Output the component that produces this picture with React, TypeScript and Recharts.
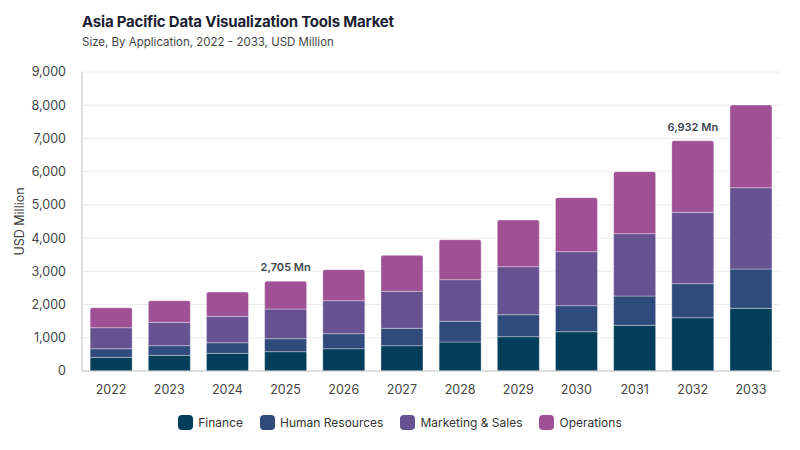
import React from "react";
import {
  BarChart,
  Bar,
  XAxis,
  YAxis,
  CartesianGrid,
  LabelList,
} from "recharts";

const years = ["2022", "2023", "2024", "2025", "2026", "2027", "2028", "2029", "2030", "2031", "2032", "2033"];
const finance = [412, 472, 532, 582, 671, 762, 873, 1033, 1183, 1375, 1605, 1886];
const humanResources = [259, 290, 320, 391, 452, 523, 623, 662, 783, 883, 1024, 1184];
const marketingSales = [632, 704, 794, 893, 993, 1114, 1252, 1445, 1626, 1876, 2148, 2448];
const operations = [602, 650, 732, 839, 934, 1084, 1204, 1405, 1625, 1866, 2155, 2489];
const yTicks = [0, 1000, 2000, 3000, 4000, 5000, 6000, 7000, 8000, 9000];
const labelledYears = ["2025", "2032"];

const series = [
  { key: "finance", name: "Finance", color: "#023e5a" },
  { key: "hr", name: "Human Resources", color: "#2f4b7c" },
  { key: "marketing", name: "Marketing & Sales", color: "#665191" },
  { key: "operations", name: "Operations", color: "#a05195" },
];

const data = years.map((year, i) => ({
  year,
  finance: finance[i],
  hr: humanResources[i],
  marketing: marketingSales[i],
  operations: operations[i],
  total: finance[i] + humanResources[i] + marketingSales[i] + operations[i],
}));

const FONT = "Inter, 'Noto Sans', sans-serif";

const fmt = (v: number) => v.toLocaleString("en-US");

function TotalLabel(props: any) {
  const { x, y, width, index } = props;
  const row = data[index];
  if (!row || !labelledYears.includes(row.year)) return null;
  return (
    <text
      x={x + width / 2}
      y={y - 10}
      textAnchor="middle"
      fontSize={11}
      fontWeight={600}
      fill="#3d4451"
      fontFamily={FONT}
    >
      {fmt(row.total)} Mn
    </text>
  );
}

export default function App() {
  return (
    <div
      style={{
        position: "absolute",
        left: 0,
        top: 0,
        width: 800,
        height: 450,
        background: "#fff",
        fontFamily: FONT,
      }}
    >
      <div style={{ position: "absolute", left: 82, top: 12, color: "#1c1f33" }}>
        <div style={{ fontSize: 15, fontWeight: 700, letterSpacing: -0.2 }}>
          Asia Pacific Data Visualization Tools Market
        </div>
        <div style={{ fontSize: 11.5, color: "#444", marginTop: 4 }}>
          Size, By Application, 2022 - 2033, USD Million
        </div>
      </div>

      <BarChart
        width={800}
        height={450}
        data={data}
        margin={{ top: 72, right: 20, left: 0, bottom: 49 }}
        barCategoryGap="14%"
        style={{ position: "absolute", left: 0, top: 0 }}
      >
        <CartesianGrid vertical={false} stroke="#ececec" />
        <XAxis
          dataKey="year"
          axisLine={{ stroke: "#c8c8c8" }}
          tickLine={false}
          tickMargin={8}
          tick={{ fontSize: 12.5, fill: "#444", fontFamily: FONT }}
          height={30}
        />
        <YAxis
          width={82}
          domain={[0, 9000]}
          ticks={yTicks}
          tickFormatter={fmt}
          axisLine={{ stroke: "#dedede", strokeWidth: 2 }}
          tickLine={false}
          tickMargin={10}
          tick={{ fontSize: 12.5, fill: "#444", fontFamily: FONT }}
          label={{
            value: "USD Million",
            angle: -90,
            position: "insideLeft",
            offset: 20,
            style: { textAnchor: "middle", fontSize: 12.5, fill: "#444", fontFamily: FONT },
          }}
        />
        {series.map((s, i) => (
          <Bar
            key={s.key}
            dataKey={s.key}
            name={s.name}
            stackId="a"
            fill={s.color}
            stroke="#ffffff"
            strokeOpacity={0.35}
            strokeWidth={1}
            radius={i === series.length - 1 ? [2, 2, 0, 0] : 0}
            isAnimationActive={false}
          >
            {i === series.length - 1 && <LabelList dataKey="total" content={TotalLabel} />}
          </Bar>
        ))}
      </BarChart>

      <div
        style={{
          position: "absolute",
          left: 0,
          width: 800,
          top: 415,
          display: "flex",
          justifyContent: "center",
          gap: 17,
          fontSize: 12,
          color: "#333",
        }}
      >
        {series.map((s) => (
          <div key={s.key} style={{ display: "flex", alignItems: "center", gap: 5 }}>
            <span
              style={{
                width: 15,
                height: 15,
                borderRadius: 4,
                background: s.color,
                display: "inline-block",
              }}
            />
            <span>{s.name}</span>
          </div>
        ))}
      </div>
    </div>
  );
}
